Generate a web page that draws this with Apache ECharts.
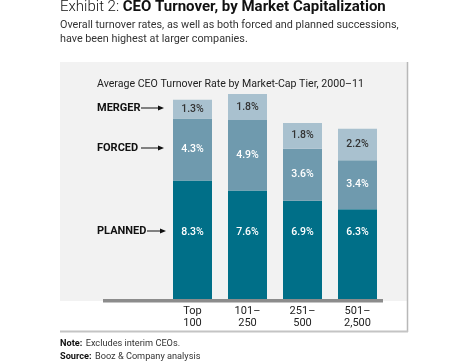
<!DOCTYPE html>
<html>
<head>
<meta charset="utf-8">
<script src="https://cdn.jsdelivr.net/npm/echarts@6/dist/echarts.min.js"></script>
<style>
html,body{margin:0;padding:0;background:#fff;}
#c{width:468px;height:363px;}
</style>
</head>
<body>
<div id="c"></div>
<script>
const categories = ['Top\n100', '101–\n250', '251–\n500', '501–\n2,500'];
const planned = [8.3, 7.6, 6.9, 6.3];
const forced = [4.3, 4.9, 3.6, 3.4];
const merger = [1.3, 1.8, 1.8, 2.2];
const seriesNames = ['PLANNED', 'FORCED', 'MERGER'];

const FONT = 'Roboto, "DejaVu Sans", sans-serif';
const chart = echarts.init(document.getElementById('c'), null, {renderer: 'canvas'});

const fmt = p => p.value.toFixed(1) + '%';

function arrow(x1, x2, y) {
  return [
    {type: 'line', shape: {x1: x1, y1: y, x2: x2 - 4, y2: y}, style: {stroke: '#111', lineWidth: 1}},
    {type: 'polygon', shape: {points: [[x2 - 6, y - 2.5], [x2, y], [x2 - 6, y + 2.5]]}, style: {fill: '#111'}}
  ];
}

chart.setOption({
  animation: false,
  textStyle: {fontFamily: FONT},
  grid: {left: 165, width: 220, top: 84, bottom: 63},
  xAxis: {
    type: 'category',
    data: categories,
    axisLine: {show: false},
    axisTick: {show: false},
    axisLabel: {color: '#222', fontSize: 11, lineHeight: 12, margin: 5, fontFamily: FONT}
  },
  yAxis: {
    type: 'value', min: 0, max: 15,
    show: false, splitLine: {show: false}
  },
  graphic: [
    {type: 'rect', z: -10, shape: {x: 60, y: 62, width: 347, height: 239}, style: {fill: '#f2f2f2'}},
    {type: 'line', shape: {x1: 407.5, y1: 62, x2: 407.5, y2: 332}, style: {stroke: '#b8b8b8', lineWidth: 1.5}},
    {type: 'line', shape: {x1: 60, y1: 331.5, x2: 408, y2: 331.5}, style: {stroke: '#c4c4c4', lineWidth: 2}},
    {type: 'rect', z: 10, shape: {x: 103, y: 299, width: 280, height: 3.5}, style: {fill: '#8c8c8c'}},
    {type: 'text', x: 60, y: 0, style: {
      text: '{a|Exhibit 2: }{b|CEO Turnover, by Market Capitalization}',
      rich: {
        a: {fontFamily: FONT, fontSize: 15, fontWeight: 300, fill: '#111'},
        b: {fontFamily: FONT, fontSize: 15, fontWeight: 'bold', fill: '#111'}
      }
    }},
    {type: 'text', x: 60, y: 18, style: {
      text: 'Overall turnover rates, as well as both forced and planned successions,\nhave been highest at larger companies.',
      font: '10.8px ' + FONT, fill: '#333', lineHeight: 14.5
    }},
    {type: 'text', x: 97, y: 79, style: {
      text: 'Average CEO Turnover Rate by Market-Cap Tier, 2000–11',
      font: '10.6px ' + FONT, fill: '#222'
    }},
    {type: 'text', x: 97, y: 108, style: {text: seriesNames[2], font: 'bold 11px ' + FONT, fill: '#111', verticalAlign: 'middle'}},
    {type: 'text', x: 97, y: 148, style: {text: seriesNames[1], font: 'bold 11px ' + FONT, fill: '#111', verticalAlign: 'middle'}},
    {type: 'text', x: 97, y: 231, style: {text: seriesNames[0], font: 'bold 11px ' + FONT, fill: '#111', verticalAlign: 'middle'}},
    ...arrow(141, 164, 108),
    ...arrow(141, 164, 148),
    ...arrow(147, 166, 231),
    {type: 'text', x: 60, y: 338, style: {
      text: '{b|Note:} {r|Excludes interim CEOs.}',
      rich: {b: {fontFamily: FONT, fontSize: 9.2, fontWeight: 'bold', fill: '#111'}, r: {fontFamily: FONT, fontSize: 9.2, fill: '#333'}}
    }},
    {type: 'text', x: 60, y: 351, style: {
      text: '{b|Source:} {r|Booz & Company analysis}',
      rich: {b: {fontFamily: FONT, fontSize: 9.2, fontWeight: 'bold', fill: '#111'}, r: {fontFamily: FONT, fontSize: 9.2, fill: '#333'}}
    }}
  ],
  series: [
    {
      name: seriesNames[0], type: 'bar', stack: 't', data: planned, barWidth: 39,
      itemStyle: {color: '#006f88'},
      label: {show: true, position: 'insideBottom', distance: 62, color: '#fff', fontSize: 10.5, fontWeight: 500, formatter: fmt}
    },
    {
      name: seriesNames[1], type: 'bar', stack: 't', data: forced, barWidth: 39,
      itemStyle: {color: '#6f9aae'},
      label: {show: true, position: 'inside', color: '#fff', fontSize: 10.5, fontWeight: 500, formatter: fmt}
    },
    {
      name: seriesNames[2], type: 'bar', stack: 't', data: merger, barWidth: 39,
      itemStyle: {color: '#a9c1cf'},
      label: {show: true, position: 'inside', color: '#333', fontSize: 10.5, fontWeight: 500, formatter: fmt}
    }
  ]
});
</script>
</body>
</html>
